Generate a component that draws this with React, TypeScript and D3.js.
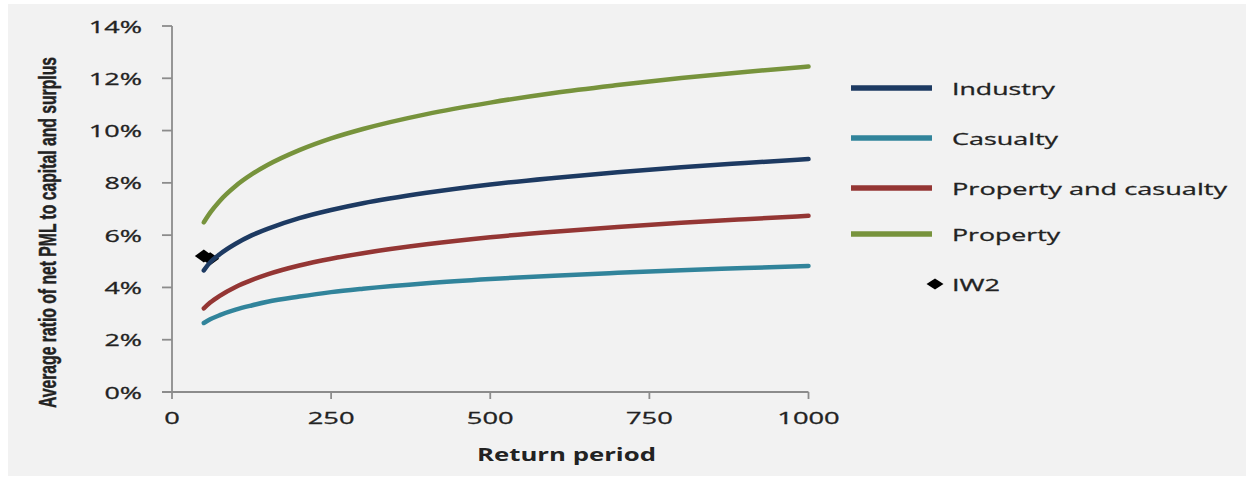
import React from "react";
import * as d3 from "d3";

// Return periods (years) at which the average net PML ratios are tabulated
const returnPeriods = [50, 60, 75, 100, 125, 150, 200, 250, 300, 400, 500, 600, 700, 800, 900, 1000];

// Average ratio of net PML to capital and surplus, in percent
const industry = [4.65, 4.96, 5.27, 5.67, 5.99, 6.24, 6.65, 6.96, 7.22, 7.62, 7.94, 8.19, 8.41, 8.6, 8.76, 8.91];
const casualty = [2.64, 2.78, 2.94, 3.15, 3.31, 3.45, 3.65, 3.82, 3.95, 4.16, 4.32, 4.45, 4.56, 4.66, 4.74, 4.82];
const propertyAndCasualty = [3.2, 3.42, 3.68, 4.02, 4.28, 4.5, 4.84, 5.1, 5.31, 5.65, 5.92, 6.13, 6.31, 6.47, 6.61, 6.74];
const property = [6.49, 6.86, 7.31, 7.88, 8.32, 8.68, 9.25, 9.7, 10.06, 10.63, 11.07, 11.44, 11.74, 12.01, 12.24, 12.45];

// IW2 observations
const iw2Periods = [50, 60];
const iw2Values = [5.2, 5.1];

// Axis ticks
const xTicks = [0, 250, 500, 750, 1000];
const yTicks = [0, 2, 4, 6, 8, 10, 12, 14];

const seriesNames = ["Industry", "Casualty", "Property and casualty", "Property"];
const seriesValues = [industry, casualty, propertyAndCasualty, property];
const seriesColors = ["#1d3a62", "#31849b", "#943634", "#77933c"];

const W = 1251;
const H = 481;
const FONT = "'Open Sans', 'DejaVu Sans', sans-serif";
const TEXT = "#222222";
const AXIS = "#8c8c8c";

// stretched label widths (glyphs are rendered wide)
const labelWidth = (s: string) =>
  s.split("").reduce((w, c) => w + (c === "%" ? 22 : 15.6), 0);

const legendRows = [88, 138, 188, 234];
const legendWidths = [103, 106, 275, 108];

export default function App() {
  const x = d3.scaleLinear().domain([0, 1000]).range([172, 808.5]);
  const y = d3.scaleLinear().domain([0, 14]).range([392, 26]);

  const line = d3
    .line<number>()
    .x((_, i) => x(returnPeriods[i]))
    .y((d) => y(d))
    .curve(d3.curveMonotoneX);

  const markerDiamond = "M0,-6.5 L9,0 L0,6.5 L-9,0 Z";
  const legendDiamond = "M0,-5.5 L8.5,0 L0,5.5 L-8.5,0 Z";

  return (
    <div style={{ position: "absolute", left: 0, top: 0 }}>
      <svg width={W} height={H} style={{ display: "block", background: "#ffffff" }}>
        <rect x={8} y={4} width={1238} height={472} fill="#f2f2f2" />

        {/* IW2 markers */}
        {iw2Periods.map((p, i) => (
          <path key={i} d={markerDiamond} transform={`translate(${x(p)},${y(iw2Values[i])})`} fill="#000" />
        ))}

        {/* series lines */}
        {seriesValues.map((vals, i) => (
          <path
            key={seriesNames[i]}
            d={line(vals) || ""}
            fill="none"
            stroke={seriesColors[i]}
            strokeWidth={4.5}
            strokeLinecap="round"
            strokeLinejoin="round"
          />
        ))}

        {/* y axis */}
        <line x1={x(0)} x2={x(0)} y1={y(14)} y2={y(0)} stroke={AXIS} strokeWidth={1.8} />
        {yTicks.map((t) => (
          <g key={t}>
            <line x1={x(0) - 10} x2={x(0)} y1={y(t)} y2={y(t)} stroke={AXIS} strokeWidth={1.8} />
            <text
              x={142}
              y={y(t) + 6.5}
              textAnchor="end"
              fontFamily={FONT}
              fontSize={17}
              fill={TEXT}
              stroke={TEXT}
              strokeWidth={0.3}
              textLength={labelWidth(`${t}%`)}
              lengthAdjust="spacingAndGlyphs"
            >
              {`${t}%`}
            </text>
          </g>
        ))}

        {/* x axis */}
        <line x1={x(0) - 10} x2={x(1000)} y1={y(0)} y2={y(0)} stroke={AXIS} strokeWidth={1.8} />
        {xTicks.map((t) => (
          <g key={t}>
            <line x1={x(t)} x2={x(t)} y1={y(0)} y2={y(0) + 7} stroke={AXIS} strokeWidth={1.8} />
            <text
              x={x(t)}
              y={424}
              textAnchor="middle"
              fontFamily={FONT}
              fontSize={17}
              fill={TEXT}
              stroke={TEXT}
              strokeWidth={0.3}
              textLength={labelWidth(String(t))}
              lengthAdjust="spacingAndGlyphs"
            >
              {t}
            </text>
          </g>
        ))}

        {/* axis titles */}
        <text
          x={566.5}
          y={461}
          textAnchor="middle"
          fontFamily={FONT}
          fontWeight="bold"
          fontSize={18}
          fill={TEXT}
          textLength={179}
          lengthAdjust="spacingAndGlyphs"
        >
          Return period
        </text>
        <text
          transform="translate(56,232.5) rotate(-90) scale(1,1.5)"
          textAnchor="middle"
          fontFamily="'Liberation Sans', Arial, sans-serif"
          fontWeight="bold"
          fontSize={16}
          fill={TEXT}
          stroke={TEXT}
          strokeWidth={0.3}
          textLength={351}
          lengthAdjust="spacingAndGlyphs"
        >
          Average ratio of net PML to capital and surplus
        </text>

        {/* legend */}
        {seriesNames.map((name, i) => (
          <g key={name}>
            <line
              x1={851}
              x2={932}
              y1={legendRows[i]}
              y2={legendRows[i]}
              stroke={seriesColors[i]}
              strokeWidth={5.5}
            />
            <text
              x={952}
              y={legendRows[i] + 6.5}
              fontFamily={FONT}
              fontSize={17}
              fill={TEXT}
              stroke={TEXT}
              strokeWidth={0.3}
              textLength={legendWidths[i]}
              lengthAdjust="spacingAndGlyphs"
            >
              {name}
            </text>
          </g>
        ))}
        <path d={legendDiamond} transform="translate(935,284)" fill="#000" />
        <text
          x={952}
          y={290.5}
          fontFamily={FONT}
          fontSize={17}
          fill={TEXT}
          stroke={TEXT}
          strokeWidth={0.3}
          textLength={48}
          lengthAdjust="spacingAndGlyphs"
        >
          IW2
        </text>
      </svg>
    </div>
  );
}
